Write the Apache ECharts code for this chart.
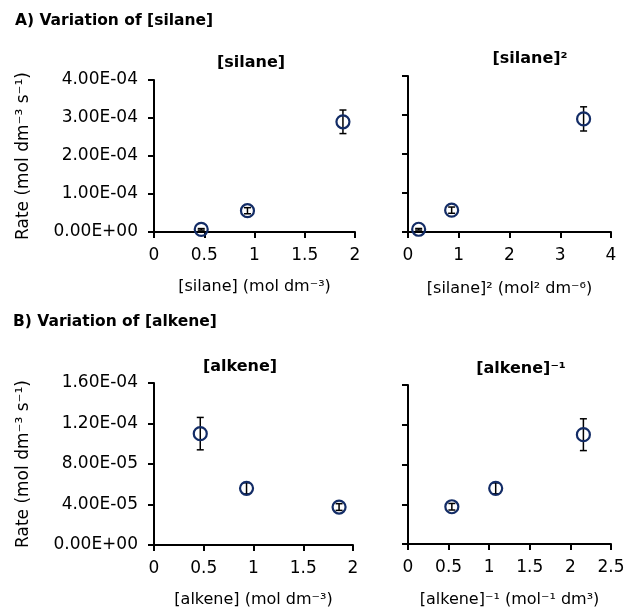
<!DOCTYPE html>
<html>
<head>
<meta charset="utf-8">
<script src="https://cdn.jsdelivr.net/npm/echarts@6/dist/echarts.min.js"></script>
<style>
html, body { margin: 0; padding: 0; background: #fff; }
#chart { width: 629px; height: 609px; }
</style>
</head>
<body>
<div id="chart"></div>
<script>
// data
var silaneConc = [0.47, 0.93, 1.88];
var silaneSq = [0.21, 0.86, 3.46];
var silaneRate = [7e-6, 5.6e-5, 2.9e-4];
var silaneErr = [2e-6, 8e-6, 3.1e-5];

var alkeneConc = [0.465, 0.93, 1.86];
var alkeneInv = [2.16, 1.08, 0.54];
var alkeneRate = [1.10e-4, 5.6e-5, 3.75e-5];
var alkeneErr = [1.6e-5, 5.5e-6, 3.3e-6];

// axis ranges [min, max, interval]
var silaneX = [0, 2, 0.5];
var silaneSqX = [0, 4, 1];
var alkeneX = [0, 2, 0.5];
var alkeneInvX = [0, 2.5, 0.5];
var silaneY = [0, 4e-4, 1e-4];
var alkeneY = [0, 1.6e-4, 4e-5];

var FONT = 'DejaVu Sans';
var rateName = 'Rate (mol dm\u207B\u00B3 s\u207B\u00B9)';

function sci(v) {
    if (Math.abs(v) < 1e-12) return '0.00E+00';
    var p = v.toExponential(2).split('e');
    var ex = parseInt(p[1], 10);
    var s = ex < 0 ? '-' : '+';
    ex = Math.abs(ex);
    return p[0] + 'E' + s + (ex < 10 ? '0' + ex : ex);
}

var panels = [
    {grid: {left: 154, top: 80, width: 201, height: 152}, x: silaneConc, y: silaneRate, err: silaneErr,
        xr: silaneX, yr: silaneY, xname: '[silane] (mol dm\u207B\u00B3)', yname: rateName, gap: 47},
    {grid: {left: 408, top: 76, width: 203, height: 156}, x: silaneSq, y: silaneRate, err: silaneErr,
        xr: silaneSqX, yr: silaneY, xname: '[silane]\u00B2 (mol\u00B2 dm\u207B\u2076)', yname: '', gap: 49},
    {grid: {left: 154, top: 383, width: 199, height: 163}, x: alkeneConc, y: alkeneRate, err: alkeneErr,
        xr: alkeneX, yr: alkeneY, xname: '[alkene] (mol dm\u207B\u00B3)', yname: rateName, gap: 47},
    {grid: {left: 408, top: 385, width: 203, height: 163}, x: alkeneInv, y: alkeneRate, err: alkeneErr,
        xr: alkeneInvX, yr: alkeneY, xname: '[alkene]\u207B\u00B9 (mol\u207B\u00B9 dm\u00B3)', yname: '', gap: 48}
];

var axisLine = {lineStyle: {color: '#000', width: 2}};
var axisTick = {inside: false, length: 6, lineStyle: {color: '#000', width: 2}};

var grids = [], xAxes = [], yAxes = [], series = [];
panels.forEach(function (p, i) {
    grids.push(p.grid);
    xAxes.push({
        gridIndex: i, type: 'value', min: p.xr[0], max: p.xr[1], interval: p.xr[2],
        axisLine: axisLine, axisTick: axisTick, splitLine: {show: false},
        axisLabel: {color: '#000', fontFamily: FONT, fontSize: 17, margin: 15},
        name: p.xname, nameLocation: 'middle', nameGap: p.gap,
        nameTextStyle: {color: '#000', fontFamily: FONT, fontSize: 16}
    });
    yAxes.push({
        gridIndex: i, type: 'value', min: p.yr[0], max: p.yr[1], interval: p.yr[2],
        axisLine: {show: true, lineStyle: axisLine.lineStyle}, axisTick: axisTick, splitLine: {show: false},
        axisLabel: {show: p.yname !== '', color: '#000', fontFamily: FONT, fontSize: 17, margin: 16,
            formatter: sci},
        name: p.yname, nameLocation: 'middle', nameRotate: 90, nameGap: 122,
        nameTextStyle: {color: '#000', fontFamily: FONT, fontSize: 17}
    });
    var pts = [];
    for (var k = 0; k < p.x.length; k++) {
        pts.push([p.x[k], p.y[k], p.err[k]]);
    }
    series.push({
        type: 'custom', xAxisIndex: i, yAxisIndex: i, data: pts, z: 3,
        renderItem: function (params, api) {
            var xv = api.value(0), yv = api.value(1), ev = api.value(2);
            var top = api.coord([xv, yv + ev]);
            var bot = api.coord([xv, yv - ev]);
            var w = 3.5;
            var st = {stroke: '#000', lineWidth: 1.5};
            return {
                type: 'group', children: [
                    {type: 'line', shape: {x1: top[0], y1: top[1], x2: bot[0], y2: bot[1]}, style: st},
                    {type: 'line', shape: {x1: top[0] - w, y1: top[1], x2: top[0] + w, y2: top[1]}, style: st},
                    {type: 'line', shape: {x1: bot[0] - w, y1: bot[1], x2: bot[0] + w, y2: bot[1]}, style: st}
                ]
            };
        }
    });
    series.push({
        type: 'scatter', xAxisIndex: i, yAxisIndex: i, z: 4,
        data: pts.map(function (d) { return [d[0], d[1]]; }),
        symbol: 'circle', symbolSize: 13,
        itemStyle: {color: 'rgba(0,0,0,0)', borderColor: '#132c66', borderWidth: 2.2, opacity: 1}
    });
});

function txt(s, x, y, size, align) {
    return {
        type: 'text', x: x, y: y,
        style: {text: s, fontFamily: FONT, fontSize: size, fontWeight: 'bold', fill: '#000',
            align: align, textAlign: align, verticalAlign: 'middle', textVerticalAlign: 'middle'}
    };
}

var chart = echarts.init(document.getElementById('chart'));
chart.setOption({
    animation: false,
    grid: grids,
    xAxis: xAxes,
    yAxis: yAxes,
    series: series,
    graphic: [
        txt('A) Variation of [silane]', 15, 21, 15.5, 'left'),
        txt('B) Variation of [alkene]', 13, 322, 15.5, 'left'),
        txt('[silane]', 251, 63, 16, 'center'),
        txt('[silane]\u00B2', 530, 59, 16, 'center'),
        txt('[alkene]', 240, 367, 16, 'center'),
        txt('[alkene]\u207B\u00B9', 521, 369, 16, 'center')
    ]
});
</script>
</body>
</html>
